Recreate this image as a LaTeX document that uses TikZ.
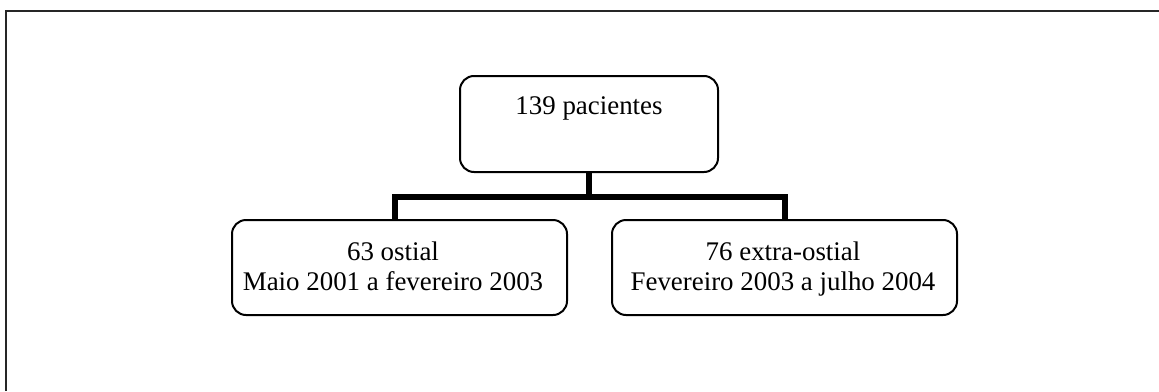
\documentclass[tikz,border=0pt]{standalone}
\usepackage{fontspec}
\setmainfont{Liberation Serif}
\begin{document}
\begin{tikzpicture}[x=0.5pt,y=-0.5pt,
 box/.style={draw, line width=1pt, rounded corners=7pt, inner sep=0pt},
 conn/.style={line width=2.6pt, line join=miter},
 lbl/.style={font=\fontsize{13.45}{15}\selectfont, inner sep=0pt, anchor=base},
 frame/.style={line width=1pt, black!85}]
\useasboundingbox (0,0) rectangle (1159,391);
\draw[frame] (6,391) -- (6,11) -- (1159,11);
% boxes
\node[box, minimum width=129pt, minimum height=48pt] (top) at (589,124) {};
\node[box, minimum width=167.5pt, minimum height=47.5pt] (lbox) at (399.5,267.5) {};
\node[box, minimum width=172.5pt, minimum height=47.5pt] (rbox) at (784.5,267.5) {};
% texts
\node[lbl] (ttext) at (589,114) {139 pacientes};
\node[lbl] (ltext1) at (393,260) {63 ostial};
\node[lbl] (ltext2) at (393,290) {Maio 2001 a fevereiro 2003};
\node[lbl] (rtext1) at (783,260) {76 extra-ostial};
\node[lbl] (rtext2) at (783,290) {Fevereiro 2003 a julho 2004};
% connectors
\coordinate (bar) at (589,197);
\coordinate (lin) at (395,0);
\coordinate (rin) at (785,0);
\draw[conn] (top.south) -- (bar);
\draw[conn] (lbox.north -| lin) -- (lin |- bar) -- (rin |- bar) -- (rbox.north -| rin);
\end{tikzpicture}
\end{document}
